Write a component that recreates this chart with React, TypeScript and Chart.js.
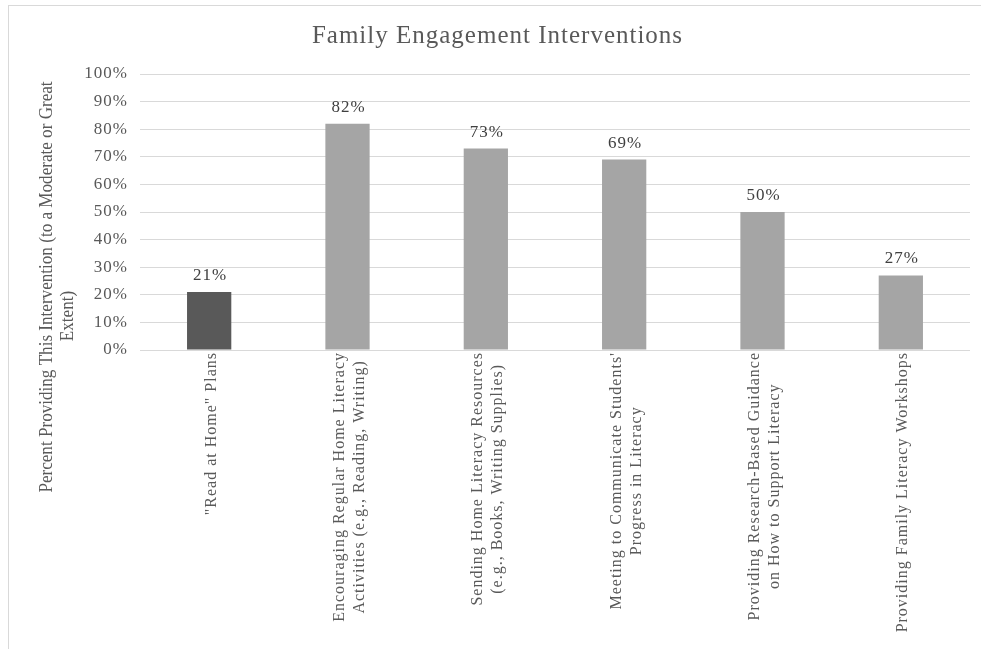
import { useEffect, useRef } from 'react';
import { Chart, registerables } from 'chart.js';

Chart.register(...registerables);

const TITLE = 'Family Engagement Interventions';
const Y_TITLE_LINES = ['Percent Providing This Intervention (to a Moderate or Great', 'Extent)'];

const categories: string[][] = [
  ['"Read at Home" Plans'],
  ['Encouraging Regular Home Literacy', 'Activities (e.g., Reading, Writing)'],
  ['Sending Home Literacy Resources', '(e.g., Books, Writing Supplies)'],
  ["Meeting to Communicate Students'", 'Progress in Literacy'],
  ['Providing Research-Based Guidance', 'on How to Support Literacy'],
  ['Providing Family Literacy Workshops'],
];

const values = [21, 82, 73, 69, 50, 27];

const barColors = ['#595959', '#a5a5a5', '#a5a5a5', '#a5a5a5', '#a5a5a5', '#a5a5a5'];

const yMin = 0;
const yMax = 100;
const yStep = 10;

const SERIF = '"Liberation Serif", "Times New Roman", serif';
const TEXT = '#595959';
const GRID = '#d9d9d9';

const spacingPlugin = {
  id: 'spacing',
  beforeUpdate(chart: any) {
    chart.ctx.letterSpacing = '1px';
  },
  beforeDraw(chart: any) {
    chart.ctx.letterSpacing = '1px';
  },
};

const textPlugin = {
  id: 'texts',
  afterDraw(chart: any) {
    const ctx = chart.ctx as CanvasRenderingContext2D;
    const area = chart.chartArea;
    ctx.save();
    (ctx as any).letterSpacing = '1px';

    // title
    ctx.font = `25px ${SERIF}`;
    ctx.fillStyle = TEXT;
    ctx.textAlign = 'center';
    ctx.textBaseline = 'alphabetic';
    ctx.fillText(TITLE, chart.width / 2 + 7, 43);

    // data labels
    const meta = chart.getDatasetMeta(0);
    ctx.font = `17px ${SERIF}`;
    ctx.fillStyle = '#404040';
    meta.data.forEach((bar: any, i: number) => {
      ctx.fillText(values[i] + '%', bar.x + 1, bar.y - 12);
    });

    // category labels
    const xs = chart.scales.x;
    ctx.font = `16px ${SERIF}`;
    ctx.fillStyle = TEXT;
    categories.forEach((lines, i) => {
      const cx = xs.getPixelForTick(i);
      const maxW = Math.max(...lines.map((l) => ctx.measureText(l).width));
      ctx.save();
      ctx.translate(cx, area.bottom + 2 + maxW / 2);
      ctx.rotate(-Math.PI / 2);
      lines.forEach((l, j) => {
        ctx.fillText(l, 0, (j - (lines.length - 1) / 2) * 20 + 6.5);
      });
      ctx.restore();
    });

    // y axis title
    (ctx as any).letterSpacing = '0px';
    ctx.font = `19px ${SERIF}`;
    ctx.fillStyle = TEXT;
    const yTitlePos = [
      [area.left - 88, 287],
      [area.left - 67, 316],
    ];
    Y_TITLE_LINES.forEach((l, j) => {
      ctx.save();
      ctx.translate(yTitlePos[j][0], yTitlePos[j][1]);
      ctx.rotate(-Math.PI / 2);
      ctx.scale(0.9, 1);
      ctx.fillText(l, 0, 0);
      ctx.restore();
    });

    ctx.restore();
  },
};

export default function App() {
  const canvasRef = useRef<HTMLCanvasElement | null>(null);

  useEffect(() => {
    const canvas = canvasRef.current;
    if (!canvas) return;
    const chart = new Chart(canvas, {
      type: 'bar',
      data: {
        labels: categories,
        datasets: [
          {
            data: values,
            backgroundColor: barColors,
            borderWidth: 0,
            categoryPercentage: 0.8,
            barPercentage: 0.4,
          },
        ],
      },
      options: {
        responsive: false,
        animation: false,
        devicePixelRatio: 1,
        layout: { padding: { top: 74, left: 0, right: 11, bottom: 0 } },
        plugins: {
          legend: { display: false },
          title: { display: false },
          tooltip: { enabled: false },
        },
        scales: {
          x: {
            grid: { display: false },
            border: { display: false },
            ticks: { display: false },
            afterFit: (s: any) => {
              s.height = 299;
            },
          },
          y: {
            min: yMin,
            max: yMax,
            ticks: {
              stepSize: yStep,
              padding: 12,
              color: TEXT,
              font: { family: SERIF, size: 17 },
              callback: (v: any) => v + '%',
            },
            grid: { color: GRID, lineWidth: 1, drawTicks: false },
            border: { display: false },
            afterFit: (s: any) => {
              s.width = 140;
            },
          },
        },
      },
      plugins: [spacingPlugin, textPlugin],
    });
    return () => chart.destroy();
  }, []);

  return (
    <div
      style={{
        position: 'fixed',
        left: 0,
        top: 0,
        width: 981,
        height: 649,
        overflow: 'hidden',
        background: '#ffffff',
      }}
    >
      <div
        style={{
          position: 'absolute',
          left: 8,
          top: 5,
          width: 978,
          height: 700,
          border: '1px solid #d9d9d9',
          boxSizing: 'border-box',
        }}
      />
      <canvas
        ref={canvasRef}
        width={981}
        height={649}
        style={{ position: 'absolute', left: 0, top: 0, display: 'block' }}
      />
    </div>
  );
}
